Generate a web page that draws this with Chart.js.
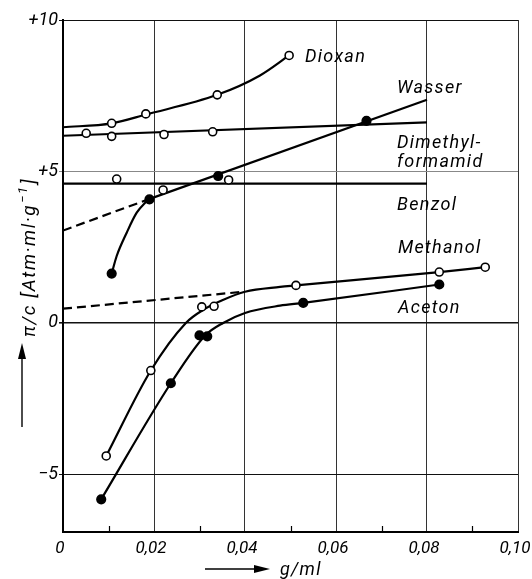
<!DOCTYPE html>
<html>
<head>
<meta charset="utf-8">
<script src="https://cdn.jsdelivr.net/npm/chart.js@4"></script>
<style>
  html, body { margin: 0; padding: 0; background: #fff; }
  canvas { display: block; }
</style>
</head>
<body>
<canvas id="chart" width="532" height="579"></canvas>
<script>
// measured points (x = g/ml, y = pi/c)
const dioxanX = [0.0107, 0.0182, 0.0339, 0.0497];
const dioxanY = [6.59, 6.90, 7.53, 8.83];
const dmfX = [0.0051, 0.0107, 0.0222, 0.0329];
const dmfY = [6.26, 6.16, 6.22, 6.31];
const benzolX = [0.0118, 0.0220, 0.0364];
const benzolY = [4.75, 4.39, 4.72];
const wasserX = [0.0107, 0.0190, 0.0341, 0.0667];
const wasserY = [1.63, 4.08, 4.85, 6.67];
const methanolX = [0.0095, 0.0193, 0.0305, 0.0332, 0.0512, 0.0827, 0.0928];
const methanolY = [-4.39, -1.57, 0.53, 0.55, 1.24, 1.68, 1.84];
const acetonX = [0.0084, 0.0237, 0.0300, 0.0317, 0.0528, 0.0827];
const acetonY = [-5.82, -1.99, -0.41, -0.44, 0.66, 1.27];

// drawn curves / fitted lines
const dioxanCurveX = [0, 0.0107, 0.0182, 0.0339, 0.0433, 0.0497];
const dioxanCurveY = [6.46, 6.59, 6.88, 7.53, 8.17, 8.83];
const dmfLineX = [0, 0.08];
const dmfLineY = [6.18, 6.62];
const benzolLineX = [0, 0.08];
const benzolLineY = [4.60, 4.60];
const wasserCurveX = [0.0107, 0.0118, 0.0140, 0.0162, 0.01875];
const wasserCurveY = [1.63, 2.21, 2.98, 3.64, 4.08];
const wasserLineX = [0.01875, 0.08];
const wasserLineY = [4.08, 7.37];
const wasserDashX = [0, 0.01875];
const wasserDashY = [3.05, 4.08];
const methanolCurveX = [0.0095, 0.0193, 0.027, 0.031, 0.035, 0.040, 0.0477, 0.0512, 0.0827, 0.0928];
const methanolCurveY = [-4.39, -1.57, 0, 0.45, 0.75, 1.03, 1.19, 1.24, 1.68, 1.84];
const methanolDashX = [0, 0.0396];
const methanolDashY = [0.47, 1.03];
const acetonCurveX = [0.0084, 0.0237, 0.0312, 0.0352, 0.040, 0.0477, 0.0528, 0.0827];
const acetonCurveY = [-5.82, -1.99, -0.42, 0, 0.33, 0.57, 0.66, 1.27];

const xTicks = [0, 0.02, 0.04, 0.06, 0.08, 0.10];
const xMinorTicks = [0.01, 0.03, 0.05, 0.07, 0.09];
const yTicks = [-5, 0, 5, 10];

const FONT = "Roboto, 'Liberation Sans', sans-serif";

function pts(xs, ys) {
    return xs.map((x, i) => ({ x: x, y: ys[i] }));
}

function curve(xs, ys, smooth, dash) {
    return {
        data: pts(xs, ys),
        order: 2,
        showLine: true,
        borderColor: "#000",
        borderWidth: 2.2,
        borderDash: dash ? [9, 5] : [],
        cubicInterpolationMode: smooth ? "monotone" : "default",
        tension: 0,
        pointRadius: 0,
        pointHoverRadius: 0,
    };
}

function marks(xs, ys, filled) {
    return {
        data: pts(xs, ys),
        order: 1,
        showLine: false,
        pointRadius: filled ? 4.3 : 4,
        pointBorderWidth: 1.6,
        pointBorderColor: "#000",
        pointBackgroundColor: filled ? "#000" : "#fff",
    };
}

const labels = [
    { text: "Dioxan", x: 305, y: 57 },
    { text: "Wasser", x: 397, y: 88 },
    { text: "Dimethyl-", x: 397, y: 143 },
    { text: "formamid", x: 397, y: 162 },
    { text: "Benzol", x: 397, y: 205 },
    { text: "Methanol", x: 398, y: 248 },
    { text: "Aceton", x: 398, y: 308 },
];

const extras = {
    id: "extras",
    afterDraw(chart) {
        const ctx = chart.ctx;
        const xs = chart.scales.x;
        const bottom = chart.chartArea.bottom;
        ctx.save();
        // minor ticks on the bottom axis
        ctx.strokeStyle = "#000";
        ctx.lineWidth = 1.2;
        xMinorTicks.forEach(v => {
            const px = Math.round(xs.getPixelForValue(v)) + 0.5;
            ctx.beginPath();
            ctx.moveTo(px, bottom);
            ctx.lineTo(px, bottom - 6);
            ctx.stroke();
        });

        // curve names
        ctx.fillStyle = "#000";
        ctx.font = "italic 18px " + FONT;
        ctx.textBaseline = "middle";
        ctx.textAlign = "left";
        if ("letterSpacing" in ctx) ctx.letterSpacing = "1.3px";
        labels.forEach(l => ctx.fillText(l.text, l.x, l.y));

        // x axis title with arrow
        ctx.lineWidth = 1.4;
        ctx.beginPath();
        ctx.moveTo(205, 569);
        ctx.lineTo(258, 569);
        ctx.stroke();
        ctx.beginPath();
        ctx.moveTo(270, 569);
        ctx.lineTo(254, 565);
        ctx.lineTo(254, 573);
        ctx.closePath();
        ctx.fill();
        ctx.textBaseline = "alphabetic";
        ctx.fillText("g/ml", 280, 575);

        // y axis arrow
        ctx.beginPath();
        ctx.moveTo(22, 427);
        ctx.lineTo(22, 355);
        ctx.stroke();
        ctx.beginPath();
        ctx.moveTo(22, 343);
        ctx.lineTo(18, 359);
        ctx.lineTo(26, 359);
        ctx.closePath();
        ctx.fill();

        // y axis title, rotated
        ctx.translate(35, 337);
        ctx.rotate(-Math.PI / 2);
        if ("letterSpacing" in ctx) ctx.letterSpacing = "1.6px";
        ctx.font = "italic 19px " + FONT;
        let tx = 0;
        const main = "\u03c0/c [Atm\u00b7ml\u00b7g";
        ctx.fillText(main, tx, 0);
        tx += ctx.measureText(main).width;
        ctx.font = "italic 13px " + FONT;
        ctx.fillText("\u22121", tx + 1, -8);
        tx += ctx.measureText("\u22121").width + 2;
        ctx.font = "italic 19px " + FONT;
        ctx.fillText("]", tx, 0);
        ctx.restore();
    }
};

new Chart(document.getElementById("chart"), {
    type: "scatter",
    data: {
        datasets: [
            curve(dioxanCurveX, dioxanCurveY, true),
            curve(dmfLineX, dmfLineY, false),
            curve(benzolLineX, benzolLineY, false),
            curve(wasserCurveX, wasserCurveY, true),
            curve(wasserLineX, wasserLineY, false),
            curve(wasserDashX, wasserDashY, false, true),
            curve(methanolCurveX, methanolCurveY, true),
            curve(methanolDashX, methanolDashY, false, true),
            curve(acetonCurveX, acetonCurveY, true),
            marks(dioxanX, dioxanY, false),
            marks(dmfX, dmfY, false),
            marks(benzolX, benzolY, false),
            marks(wasserX, wasserY, true),
            marks(methanolX, methanolY, false),
            marks(acetonX, acetonY, true),
        ]
    },
    options: {
        responsive: false,
        animation: false,
        events: [],
        layout: { padding: { left: 0, right: 14, top: 20, bottom: 0 } },
        plugins: { legend: { display: false }, tooltip: { enabled: false } },
        scales: {
            x: {
                type: "linear",
                min: 0,
                max: 0.10,
                afterBuildTicks: s => { s.ticks = xTicks.map(v => ({ value: v })); },
                afterFit: s => { s.height = 47; s.paddingLeft = 0; s.paddingRight = 0; },
                border: { display: true, color: "#000", width: 2 },
                grid: { color: "#333", lineWidth: 1, drawTicks: false },
                ticks: {
                    color: "#000",
                    padding: 7,
                    labelOffset: -3,
                    maxRotation: 0,
                    font: { family: FONT, size: 17, style: "italic" },
                    callback: v => v === 0 ? "0" : v.toFixed(2).replace(".", ","),
                }
            },
            y: {
                type: "linear",
                min: -6.9,
                max: 10,
                afterBuildTicks: s => { s.ticks = yTicks.map(v => ({ value: v })); },
                afterFit: s => { s.width = 63; s.paddingTop = 0; s.paddingBottom = 0; },
                border: { display: true, color: "#000", width: 2 },
                grid: {
                    color: c => c.tick && c.tick.value === 5 ? "#888" : "#111",
                    lineWidth: c => c.tick && c.tick.value === 0 ? 1.6 : 1,
                    tickLength: 4,
                },
                ticks: {
                    color: "#000",
                    padding: 1,
                    font: { family: FONT, size: 18, style: "italic" },
                    callback: v => v > 0 ? "+" + v : v < 0 ? "\u2212" + Math.abs(v) : "0",
                }
            }
        }
    },
    plugins: [extras]
});
</script>
</body>
</html>
